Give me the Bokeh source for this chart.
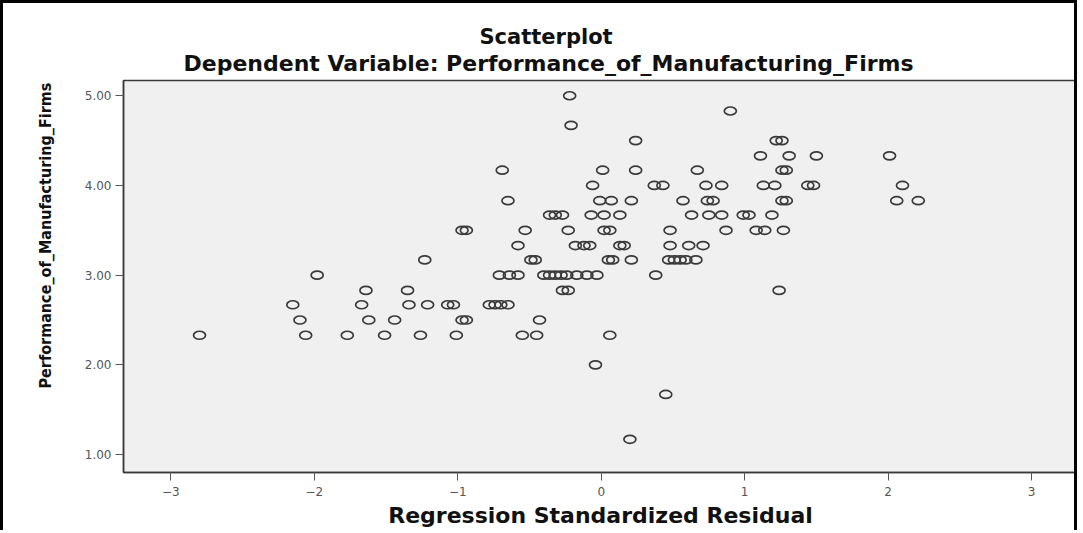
from bokeh.embed import file_html
from bokeh.models import ColumnDataSource, NumeralTickFormatter, Range1d, Title
from bokeh.plotting import figure
from bokeh.resources import INLINE

# Performance scores (one row of observations per score level)
score_levels = [5.00, 4.83, 4.67, 4.50, 4.33, 4.17, 4.00, 3.83, 3.67, 3.50,
                3.33, 3.17, 3.00, 2.83, 2.67, 2.50, 2.33, 2.00, 1.67, 1.17]

# Regression standardized residuals observed at each score level
residuals_at_level = [
    [-0.22],
    [0.90],
    [-0.21],
    [0.24, 1.22, 1.26],
    [1.11, 1.31, 1.50, 2.01],
    [-0.69, 0.01, 0.24, 0.67, 1.26, 1.29],
    [-0.06, 0.37, 0.43, 0.73, 0.84, 1.13, 1.21, 1.44, 1.48, 2.10],
    [-0.65, -0.01, 0.07, 0.21, 0.57, 0.74, 0.78, 1.26, 1.29, 2.06, 2.21],
    [-0.36, -0.32, -0.27, -0.07, 0.02, 0.13, 0.63, 0.75, 0.84, 0.99, 1.03, 1.19],
    [-0.97, -0.94, -0.53, -0.23, 0.02, 0.06, 0.48, 0.87, 1.08, 1.14, 1.27],
    [-0.58, -0.18, -0.12, -0.08, 0.13, 0.16, 0.48, 0.61, 0.71],
    [-1.23, -0.49, -0.46, 0.05, 0.08, 0.21, 0.47, 0.51, 0.55, 0.59, 0.66],
    [-1.98, -0.71, -0.64, -0.58, -0.40, -0.36, -0.32, -0.28, -0.24, -0.17,
     -0.10, -0.03, 0.38],
    [-1.64, -1.35, -0.27, -0.23, 1.24],
    [-2.15, -1.67, -1.34, -1.21, -1.07, -1.03, -0.78, -0.74, -0.70, -0.65],
    [-2.10, -1.62, -1.44, -0.97, -0.94, -0.43],
    [-2.80, -2.06, -1.77, -1.51, -1.26, -1.01, -0.55, -0.45, 0.06],
    [-0.04],
    [0.45],
    [0.20],
]

x_ticks = [-3, -2, -1, 0, 1, 2, 3]
y_ticks = [1, 2, 3, 4, 5]

title_main = "Scatterplot"
title_sub = "Dependent Variable: Performance_of_Manufacturing_Firms"
x_title = "Regression Standardized Residual"
y_title = "Performance_of_Manufacturing_Firms"

xs, ys = [], []
for level, row in zip(score_levels, residuals_at_level):
    for r in row:
        xs.append(r)
        ys.append(level)
source = ColumnDataSource(data=dict(residual=xs, performance=ys))

W, H = 1077, 530
p = figure(
    width=W, height=H,
    output_backend="svg", toolbar_location=None,
    x_range=Range1d(-3.33, 3.32), y_range=Range1d(0.80, 5.17),
    min_border_left=120, min_border_right=3,
    min_border_top=77, min_border_bottom=61,
)
p.styles = {
    "border-left": "3px solid black",
    "border-top": "3px solid black",
    "border-right": "3px solid black",
}

p.background_fill_color = "#f0f0f0"
p.border_fill_color = "white"
p.outline_line_color = "#3a3a3a"
p.outline_line_width = 1.5
p.grid.visible = False

for ax in (p.xaxis[0], p.yaxis[0]):
    ax.axis_line_color = "#3a3a3a"
    ax.axis_line_width = 1.5
    ax.major_tick_line_color = "#555555"
    ax.major_tick_out = 8
    ax.major_tick_in = 0
    ax.minor_tick_line_color = None
    ax.major_label_text_font = "DejaVu Sans"
    ax.major_label_text_font_size = "12px"
    ax.major_label_text_color = "#555555"

p.xaxis.ticker = x_ticks
p.yaxis.ticker = y_ticks
p.yaxis.formatter = NumeralTickFormatter(format="0.00")
p.xaxis.major_label_standoff = 6
p.yaxis.major_label_standoff = 4

# x-axis title
p.xaxis.axis_label = x_title
p.xaxis.axis_label_standoff = 4
p.xaxis.axis_label_text_font = "DejaVu Sans"
p.xaxis.axis_label_text_font_style = "bold"
p.xaxis.axis_label_text_font_size = "22px"
p.xaxis.axis_label_text_color = "#111111"

p.ellipse(
    x="residual", y="performance", source=source,
    width=12, height=8, width_units="screen", height_units="screen",
    fill_color=None, line_color="#3a3a3a", line_width=1.7,
)

# Titles above the frame (first added sits closest to the frame);
# both are centred on the whole chart rather than on the plot frame
p.add_layout(Title(
    text=title_sub, align="left", offset=60, standoff=10,
    text_font="DejaVu Sans", text_font_style="bold", text_font_size="22px",
    text_color="#111111",
), "above")
p.add_layout(Title(
    text=title_main, align="left", offset=356, standoff=-10,
    text_font="DejaVu Sans", text_font_style="bold", text_font_size="21px",
    text_color="#111111",
), "above")

# y-axis title, shifted up from the frame's lower edge
p.add_layout(Title(
    text=y_title, align="left", offset=84, standoff=54,
    text_font="DejaVu Sans Condensed", text_font_style="bold", text_font_size="16px",
    text_color="#111111",
), "left")

open("out.html", "w").write(file_html(p, INLINE))
